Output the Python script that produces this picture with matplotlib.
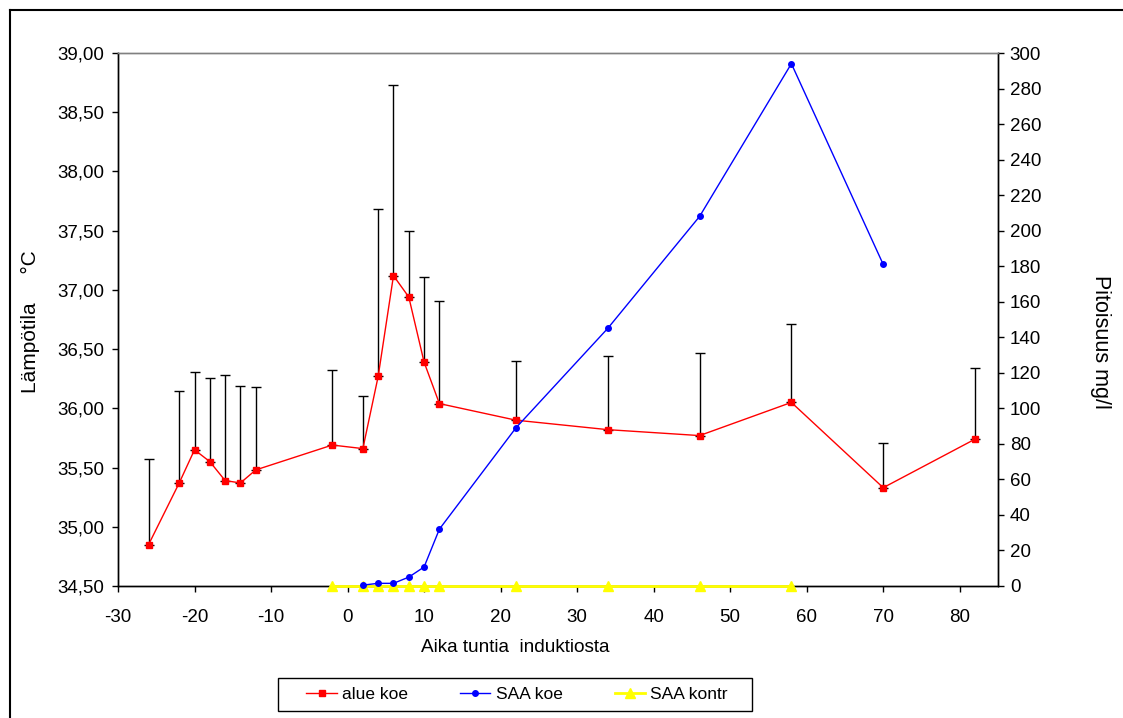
import matplotlib
matplotlib.use('Agg')
import matplotlib.pyplot as plt
from matplotlib.ticker import FuncFormatter, MultipleLocator
from matplotlib.patches import Rectangle
import numpy as np

plt.rcParams['font.family'] = ['Liberation Sans', 'DejaVu Sans']
plt.rcParams['axes.unicode_minus'] = False

# alue koe (temperature, left axis) with upper error bars
temp_x = [-26, -22, -20, -18, -16, -14, -12, -2, 2, 4, 6, 8, 10, 12, 22, 34, 46, 58, 70, 82]
temp_y = [34.85, 35.37, 35.65, 35.55, 35.39, 35.37, 35.48, 35.69, 35.66, 36.27,
          37.12, 36.94, 36.39, 36.04, 35.90, 35.82, 35.77, 36.05, 35.33, 35.74]
temp_top = [35.57, 36.15, 36.31, 36.26, 36.28, 36.19, 36.18, 36.32, 36.10, 37.68,
            38.73, 37.50, 37.11, 36.91, 36.40, 36.44, 36.47, 36.71, 35.71, 36.34]

# SAA koe (right axis)
saa_x = [2, 4, 6, 8, 10, 12, 22, 34, 46, 58, 70]
saa_y = [0.5, 1.5, 1.5, 5, 10.7, 32, 89, 145, 208, 294, 181]

# SAA kontr (right axis)
kontr_x = [-2, 2, 4, 6, 8, 10, 12, 22, 34, 46, 58]
kontr_y = [0, 0, 0, 0, 0, 0, 0, 0, 0, 0, 0]

W, H = 1123, 718
fig = plt.figure(figsize=(W / 100, H / 100), dpi=100)
ax = fig.add_axes([118 / W, 1 - 586 / H, 880 / W, 533 / H])
ax2 = ax.twinx()
ax2.patch.set_visible(False)

temp_y = np.array(temp_y)
err_up = np.array(temp_top) - temp_y
ax.errorbar(temp_x, temp_y, yerr=[np.zeros_like(err_up), err_up], fmt='none',
            ecolor='black', elinewidth=1, capsize=3.5, capthick=1, zorder=2)
l1, = ax.plot(temp_x, temp_y, color='#FF0000', lw=1, marker='s', ms=5,
              label='alue koe', zorder=3)

l3, = ax2.plot(kontr_x, kontr_y, color='#FFFF00', lw=2, marker='^', ms=7,
               label='SAA kontr', zorder=3, clip_on=False)
l2, = ax2.plot(saa_x, saa_y, color='#0000FF', lw=1, marker='o', ms=4,
               label='SAA koe', zorder=4, clip_on=False)

ax.set_xlim(-30, 85)
ax.set_ylim(34.5, 39.0)
ax2.set_ylim(0, 300)
ax.xaxis.set_major_locator(MultipleLocator(10))
ax.yaxis.set_major_locator(MultipleLocator(0.5))
ax2.yaxis.set_major_locator(MultipleLocator(20))
ax.yaxis.set_major_formatter(FuncFormatter(lambda v, p: f'{v:.2f}'.replace('.', ',')))

for a in (ax, ax2):
    a.tick_params(direction='out', length=4.5, width=1, labelsize=13.5, colors='black')
    for s in a.spines.values():
        s.set_color('black')
        s.set_linewidth(1)
    a.spines['top'].set_color('#808080')
ax.tick_params(axis='x', pad=12)
ax.tick_params(axis='y', pad=5.5)
ax2.tick_params(axis='y', pad=4)

fig.text(30 / W, 1 - 322 / H, 'Lämpötila     °C', fontsize=15,
         ha='center', va='center', rotation=90)
fig.text(515 / W, 1 - 648 / H, 'Aika tuntia  induktiosta', fontsize=13.7,
         ha='center', va='center')
fig.text(1100 / W, 1 - 342 / H, 'Pitoisuus mg/l', fontsize=15.5,
         ha='center', va='center', rotation=270)

# legend: box drawn separately
leg = fig.legend(handles=[l1, l2, l3], loc='center', ncol=3,
                 bbox_to_anchor=(517 / W, 1 - 694.5 / H), fontsize=12.5,
                 frameon=False, handlelength=1.75, handletextpad=0.3,
                 columnspacing=3.0)
fig.add_artist(Rectangle((278 / W, 1 - 711 / H), 474 / W, 33 / H,
                         transform=fig.transFigure, fill=False,
                         edgecolor='black', lw=1))

# outer chart border (top and left visible)
fig.add_artist(plt.Line2D([10 / W, 1], [1 - 10 / H, 1 - 10 / H],
                          transform=fig.transFigure, color='black', lw=1.5))
fig.add_artist(plt.Line2D([10 / W, 10 / W], [0, 1 - 10 / H],
                          transform=fig.transFigure, color='black', lw=1.5))

fig.savefig('out.png', dpi=100)
